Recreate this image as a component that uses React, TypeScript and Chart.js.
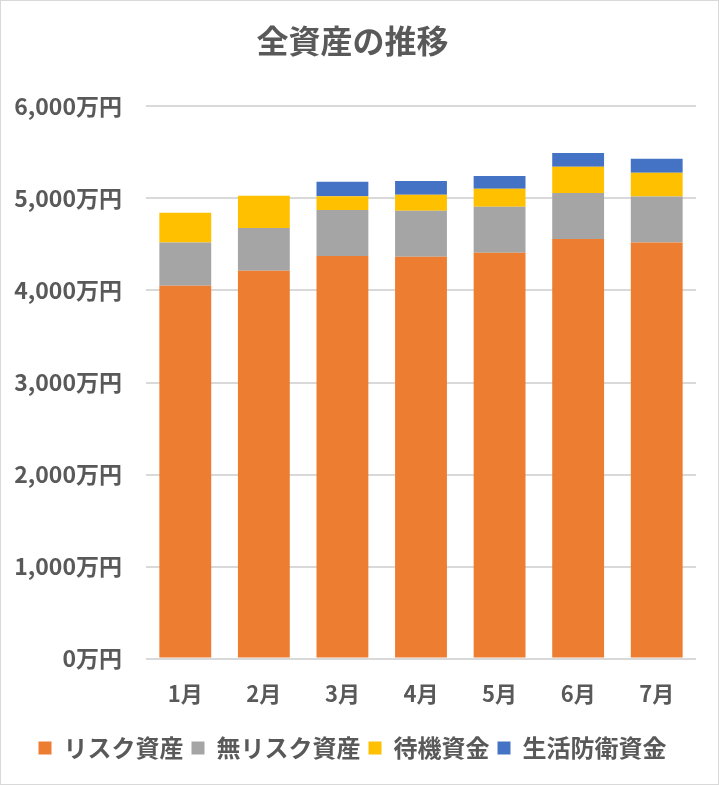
import React, { useEffect, useRef } from "react";
import { Chart, registerables } from "chart.js";

Chart.register(...registerables);

const categories = ["1月", "2月", "3月", "4月", "5月", "6月", "7月"];
const riskAssets = [4050, 4215, 4375, 4365, 4410, 4560, 4520];
const riskFreeAssets = [470, 465, 500, 500, 500, 500, 500];
const standbyFunds = [325, 350, 150, 175, 195, 285, 260];
const livingDefenseFunds = [0, 0, 155, 150, 140, 150, 150];
const yTicks = [0, 1000, 2000, 3000, 4000, 5000, 6000];

const FONT = "'Noto Sans CJK JP', 'Noto Sans', sans-serif";
const TEXT = "#595959";

export default function App() {
  const ref = useRef<HTMLCanvasElement | null>(null);

  useEffect(() => {
    if (!ref.current) return;
    const chart = new Chart(ref.current, {
      type: "bar",
      data: {
        labels: categories,
        datasets: [
          { label: "リスク資産", data: riskAssets, backgroundColor: "#ED7D31" },
          { label: "無リスク資産", data: riskFreeAssets, backgroundColor: "#A5A5A5" },
          { label: "待機資金", data: standbyFunds, backgroundColor: "#FFC000" },
          { label: "生活防衛資金", data: livingDefenseFunds, backgroundColor: "#4472C4" },
        ],
      },
      options: {
        animation: false,
        responsive: true,
        maintainAspectRatio: false,
        layout: { padding: { left: 8, right: 22, top: 21, bottom: 14 } },
        datasets: { bar: { barPercentage: 1, categoryPercentage: 0.66, borderWidth: 0 } },
        plugins: {
          title: {
            display: true,
            text: "全資産の推移",
            color: TEXT,
            font: { family: FONT, size: 32, weight: "bold" },
            padding: { top: 0, bottom: 46 },
          },
          legend: {
            position: "bottom",
            labels: {
              color: TEXT,
              font: { family: FONT, size: 24, weight: "bold" },
              boxWidth: 13,
              boxHeight: 13,
              padding: 8,
            },
          },
          tooltip: { enabled: false },
        },
        scales: {
          x: {
            stacked: true,
            grid: { display: false },
            border: { display: false },
            afterFit: (scale: any) => {
              scale.height += 7;
            },
            ticks: {
              color: TEXT,
              font: { family: FONT, size: 22, weight: "bold" },
              padding: 14,
            },
          },
          y: {
            stacked: true,
            min: 0,
            max: 6000,
            afterBuildTicks: (scale: any) => {
              scale.ticks = yTicks.map((v) => ({ value: v }));
            },
            afterFit: (scale: any) => {
              scale.width = 137;
            },
            grid: { color: "#D9D9D9", lineWidth: 2, drawTicks: false },
            border: { display: false },
            ticks: {
              color: TEXT,
              font: { family: FONT, size: 23, weight: "bold" },
              padding: 24,
              callback: (v: any) => Number(v).toLocaleString("en-US") + "万円",
            },
          },
        },
      },
    });
    return () => chart.destroy();
  }, []);

  return (
    <div
      style={{
        position: "fixed",
        left: 0,
        top: 0,
        width: 719,
        height: 785,
        boxSizing: "border-box",
        border: "1px solid #D9D9D9",
        background: "#fff",
      }}
    >
      <canvas ref={ref} />
    </div>
  );
}
